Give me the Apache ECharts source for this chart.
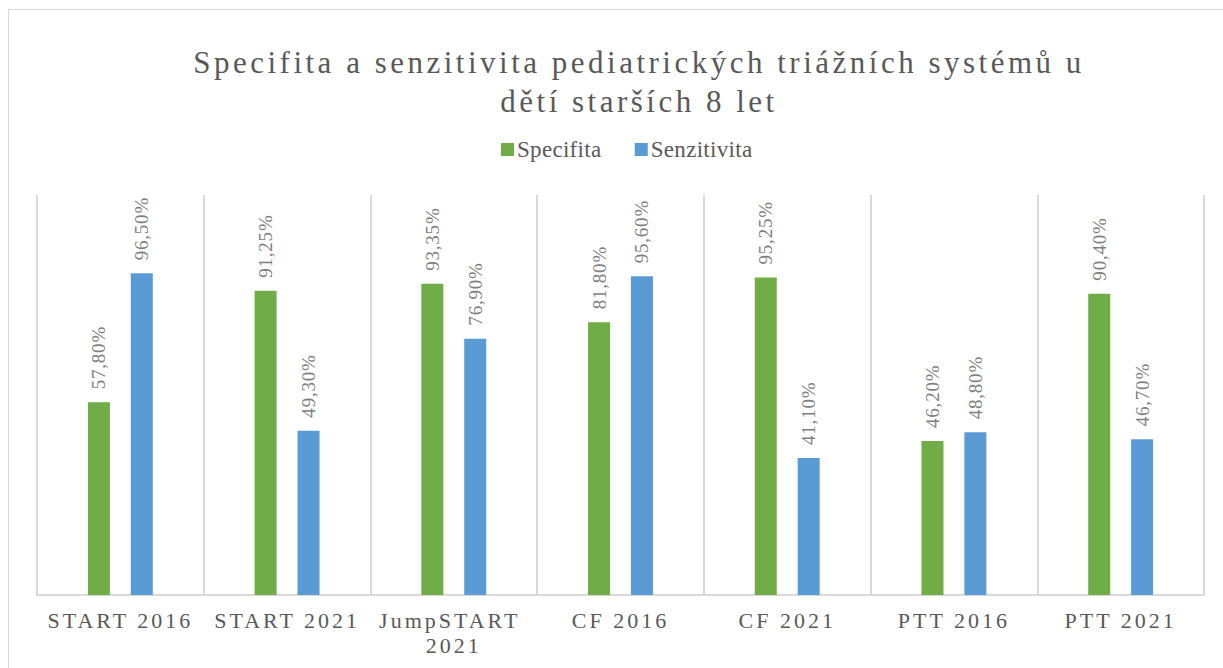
<!DOCTYPE html>
<html>
<head>
<meta charset="utf-8">
<script src="https://cdn.jsdelivr.net/npm/echarts@6/dist/echarts.min.js"></script>
<style>
  html, body { margin: 0; padding: 0; background: #fff; overflow: hidden; }
  #chart { width: 1223px; height: 668px; }
  #frame { position: absolute; left: 8px; top: 9px; width: 1240px; height: 700px; border: 1.5px solid #d9d9d9; pointer-events: none; }
  #fontwarm { position: absolute; left: 2px; top: 2px; font: 12px 'Times New Roman', serif; color: transparent; }
  #chart text { font-family: 'Times New Roman', serif !important; }
  #chart text[style*="31px"] { letter-spacing: 3.5px; }
  #chart text[style*="23px"] { letter-spacing: 0.3px; }
  #chart text[style*="22px"] { letter-spacing: 3px; }
  #chart text[style*="19px"] { letter-spacing: 0.8px; }
</style>
</head>
<body>
<div id="chart"></div>
<div id="frame"></div>
<div id="fontwarm">&nbsp;</div>
<script>
  const categories = ['START 2016', 'START 2021', 'JumpSTART 2021', 'CF 2016', 'CF 2021', 'PTT 2016', 'PTT 2021'];
  const specifita = [57.80, 91.25, 93.35, 81.80, 95.25, 46.20, 90.40];
  const senzitivita = [96.50, 49.30, 76.90, 95.60, 41.10, 48.80, 46.70];

  const font = 'Times New Roman';
  const fmt = (p) => p.value.toFixed(2).replace('.', ',') + '%';

  const label = {
    show: true,
    position: 'top',
    rotate: 90,
    align: 'left',
    verticalAlign: 'middle',
    distance: 13,
    fontFamily: font,
    fontSize: 19,
    color: '#7f7f7f',
    formatter: fmt
  };

  const option = {
    animation: false,
    title: {
      text: 'Specifita a senzitivita pediatrických triážních systémů u\ndětí starších 8 let',
      left: 634,
      top: 38,
      textAlign: 'center',
      textStyle: {
        fontFamily: font,
        fontSize: 31,
        fontWeight: 'normal',
        color: '#595959',
        lineHeight: 39
      }
    },
    legend: {
      left: 496,
      top: 133,
      itemWidth: 13,
      itemHeight: 13,
      itemGap: 36,
      icon: 'rect',
      textStyle: { fontFamily: font, fontSize: 23, color: '#595959', padding: [0, 0, 0, -2] },
      data: ['Specifita', 'Senzitivita']
    },
    grid: {
      left: 37,
      right: 19,
      top: 195,
      bottom: 73
    },
    xAxis: {
      type: 'category',
      data: categories,
      axisTick: { show: false },
      axisLine: { lineStyle: { color: '#d9d9d9', width: 2 } },
      splitLine: { show: true, lineStyle: { color: '#d9d9d9', width: 2 } },
      axisLabel: {
        fontFamily: font,
        fontSize: 22,
        color: '#595959',
        margin: 13,
        lineHeight: 25,
        width: 125,
        overflow: 'break',
        interval: 0
      }
    },
    yAxis: {
      type: 'value',
      min: 0,
      max: 120,
      interval: 20,
      show: false,
      splitLine: { show: false }
    },
    series: [
      {
        type: 'bar',
        name: 'Specifita',
        data: specifita,
        barWidth: 22,
        barGap: '95%',
        itemStyle: { color: '#70ad47' },
        label: label
      },
      {
        type: 'bar',
        name: 'Senzitivita',
        data: senzitivita,
        barWidth: 22,
        itemStyle: { color: '#5b9bd5' },
        label: label
      }
    ]
  };

  const myChart = echarts.init(document.getElementById('chart'), null, { renderer: 'svg' });
  myChart.setOption(option);

  // force style resolution of svg texts
  document.querySelectorAll('#chart text').forEach(t => getComputedStyle(t).fontFamily);
  document.body.offsetWidth;

  document.fonts.ready.then(() => {
    myChart.clear();
    myChart.setOption(option);
  });
</script>
</body>
</html>
